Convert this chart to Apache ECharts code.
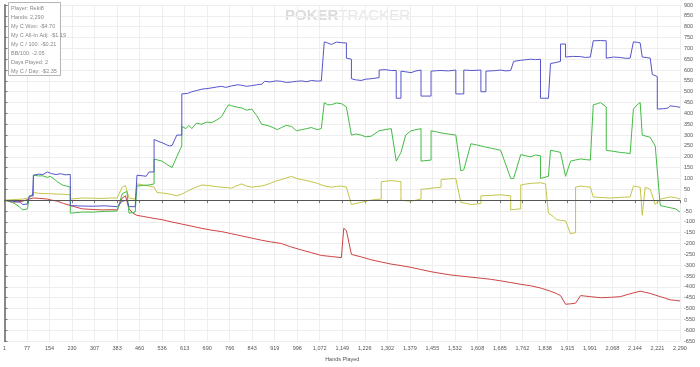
<!DOCTYPE html>
<html><head><meta charset="utf-8">
<script src="https://cdn.jsdelivr.net/npm/echarts@6/dist/echarts.min.js"></script>
<style>html,body{margin:0;padding:0;background:#fff}#c{width:700px;height:367px}</style>
</head><body><div id="c"></div>
<script>
const xTickLabels = ['1','77','154','230','307','383','460','536','613','690','766','843','919','996','1,072','1,149','1,226','1,302','1,379','1,455','1,532','1,608','1,685','1,762','1,838','1,915','1,991','2,068','2,144','2,221','2,290'];
const statLines = ['Player: Reki8','Hands: 2,290','My C Won: -$4.70','My C All-In Adj: -$1.19','My C / 100: -$0.21','BB/100: -2.05','Days Played: 2','My C / Day: -$2.35'];
const totalHands = 2290;

const blueWon = [[0,0],[27,-5],[55,-10],[61,-20],[78,-18],[84,18],[95,20],[98,115],[115,120],[130,118],[145,130],[160,122],[175,118],[190,122],[205,117],[223,118],[223,-25],[260,-27],[300,-28],[340,-26],[382,-30],[399,-5],[415,0],[422,-30],[443,-30],[449,115],[470,112],[480,110],[490,130],[507,130],[507,280],[520,272],[534,265],[550,255],[560,250],[568,252],[584,300],[601,300],[601,490],[620,492],[635,500],[650,505],[669,512],[690,515],[703,518],[720,522],[736,525],[750,520],[770,527],[790,532],[804,530],[820,525],[838,528],[855,532],[872,535],[882,548],[900,545],[920,550],[939,548],[955,543],[973,545],[990,548],[1007,550],[1025,546],[1040,552],[1060,549],[1074,550],[1084,730],[1095,725],[1108,718],[1125,729],[1142,726],[1159,725],[1159,655],[1176,650],[1176,560],[1190,555],[1209,552],[1225,558],[1243,560],[1270,565],[1270,600],[1290,602],[1311,598],[1328,598],[1328,470],[1344,470],[1344,595],[1360,592],[1378,588],[1395,596],[1412,600],[1412,480],[1446,480],[1446,595],[1465,597],[1480,598],[1505,596],[1530,600],[1530,490],[1557,490],[1557,600],[1585,598],[1615,600],[1615,500],[1632,500],[1632,595],[1660,597],[1682,600],[1700,596],[1716,598],[1726,640],[1750,645],[1784,650],[1800,648],[1817,650],[1817,470],[1844,470],[1851,630],[1870,635],[1885,640],[1885,720],[1902,720],[1902,660],[1925,663],[1953,662],[1970,658],[1986,660],[1996,735],[2020,736],[2040,735],[2040,655],[2065,660],[2088,658],[2105,654],[2121,655],[2132,730],[2145,728],[2155,725],[2162,660],[2175,658],[2189,655],[2196,580],[2213,570],[2213,420],[2235,422],[2250,425],[2257,435],[2275,432],[2290,428]];
const greenSeries = [[0,0],[27,-10],[50,-30],[61,-45],[78,-40],[84,20],[98,20],[98,115],[115,112],[130,112],[145,105],[155,110],[170,95],[179,85],[196,70],[210,65],[223,60],[223,-60],[260,-55],[300,-55],[340,-52],[382,-50],[399,30],[415,40],[422,-60],[443,-55],[449,65],[470,68],[490,70],[507,75],[507,190],[520,185],[534,180],[550,165],[568,150],[584,200],[601,250],[601,340],[615,330],[625,345],[635,330],[650,355],[669,350],[685,360],[703,358],[720,370],[736,385],[750,420],[760,440],[770,435],[785,430],[804,425],[820,415],[838,420],[855,390],[872,350],[890,345],[910,335],[925,325],[939,335],[955,345],[973,340],[990,320],[1007,325],[1025,330],[1040,335],[1060,325],[1074,330],[1084,450],[1095,440],[1108,440],[1125,448],[1142,445],[1159,430],[1176,300],[1192,305],[1209,300],[1225,292],[1243,295],[1270,320],[1290,325],[1311,330],[1328,180],[1344,220],[1360,300],[1378,320],[1395,325],[1412,330],[1412,180],[1446,185],[1446,320],[1465,315],[1480,310],[1505,305],[1530,300],[1547,135],[1557,140],[1581,260],[1600,255],[1615,250],[1630,245],[1648,240],[1665,235],[1682,230],[1716,100],[1726,100],[1750,210],[1765,205],[1784,200],[1800,208],[1817,205],[1817,100],[1844,110],[1851,230],[1870,225],[1885,220],[1902,110],[1919,180],[1935,185],[1953,190],[1970,187],[1986,185],[1996,440],[2010,445],[2020,450],[2040,430],[2040,230],[2065,225],[2088,220],[2105,218],[2121,215],[2132,420],[2145,440],[2155,450],[2162,300],[2175,295],[2189,290],[2206,250],[2223,-25],[2240,-30],[2257,-35],[2275,-40],[2290,-55]];
const yellowSeries = [[0,0],[61,5],[84,10],[98,35],[115,32],[130,30],[150,30],[179,28],[200,27],[223,25],[223,5],[263,10],[300,9],[331,8],[360,10],[382,10],[399,60],[410,67],[422,10],[443,5],[449,75],[470,70],[490,65],[507,60],[517,35],[535,33],[551,30],[570,25],[584,20],[601,28],[618,40],[640,55],[669,70],[685,68],[703,65],[720,62],[736,60],[755,58],[770,55],[785,65],[804,75],[820,65],[838,60],[855,63],[872,65],[890,72],[905,80],[920,88],[939,95],[955,102],[973,110],[990,100],[1007,95],[1025,90],[1040,85],[1060,78],[1074,70],[1090,64],[1108,60],[1125,63],[1142,65],[1159,60],[1176,-20],[1192,-15],[1209,-10],[1225,-5],[1243,0],[1260,3],[1277,5],[1277,85],[1295,88],[1311,90],[1328,88],[1344,85],[1344,0],[1360,-3],[1378,-5],[1395,0],[1412,5],[1412,50],[1430,52],[1446,55],[1465,58],[1480,60],[1480,95],[1505,98],[1530,100],[1547,-10],[1565,-15],[1581,-20],[1600,-18],[1615,-15],[1615,20],[1650,22],[1682,25],[1700,22],[1716,20],[1716,-45],[1733,-42],[1750,-40],[1750,70],[1770,75],[1790,78],[1817,80],[1834,75],[1844,-60],[1860,-75],[1871,-90],[1885,-93],[1902,-95],[1919,-155],[1936,-150],[1936,60],[1953,65],[1970,62],[1986,60],[1996,15],[2025,12],[2054,10],[2088,13],[2121,15],[2132,65],[2145,62],[2155,60],[2162,-70],[2172,60],[2189,50],[2206,-20],[2223,5],[2240,10],[2257,15],[2275,12],[2290,5]];
const redSeries = [[0,0],[27,-10],[61,-5],[84,5],[98,10],[120,8],[145,5],[160,0],[179,-5],[200,-15],[223,-25],[263,-40],[300,-43],[331,-45],[360,-44],[382,-45],[399,10],[410,20],[422,-40],[435,-60],[449,-70],[470,-75],[490,-80],[510,-85],[534,-90],[565,-100],[600,-110],[635,-120],[669,-130],[700,-138],[736,-145],[770,-155],[804,-165],[838,-175],[872,-185],[905,-193],[939,-200],[970,-215],[1007,-230],[1040,-242],[1074,-255],[1108,-260],[1142,-265],[1150,-130],[1159,-140],[1176,-250],[1210,-262],[1243,-275],[1277,-285],[1311,-295],[1345,-302],[1378,-310],[1412,-320],[1446,-330],[1480,-338],[1513,-345],[1547,-350],[1581,-355],[1615,-360],[1648,-365],[1682,-372],[1716,-380],[1750,-388],[1784,-395],[1817,-405],[1851,-420],[1870,-430],[1885,-440],[1902,-480],[1920,-478],[1936,-475],[1953,-440],[1986,-445],[2020,-450],[2055,-448],[2088,-445],[2120,-432],[2155,-420],[2172,-425],[2189,-430],[2206,-438],[2223,-445],[2240,-452],[2257,-460],[2275,-462],[2290,-465]];

const xStep = totalHands / 30;
const chart = echarts.init(document.getElementById('c'), null, {renderer:'canvas'});
const lbl = {fontFamily:'Liberation Sans, Arial, sans-serif', fontSize:5.5, color:'#555'};
function line(name, data, color, extra){
  return Object.assign({name, type:'line', data, symbol:'none', lineStyle:{color, width:1}, itemStyle:{color}, animation:false, z:3}, extra||{});
}
chart.setOption({
  animation:false,
  grid:{left:2, right:20, top:5, bottom:18},
  xAxis:{type:'value', min:0, max:totalHands, interval:xStep,
    axisLine:{show:true, lineStyle:{color:'#777'}},
    axisTick:{show:true, length:3, lineStyle:{color:'#777'}},
    axisLabel:Object.assign({margin:4, showMaxLabel:true, showMinLabel:true, formatter:v=>xTickLabels[Math.round(v/xStep)]||''}, lbl),
    splitLine:{show:true, lineStyle:{color:'#eeeeee', width:1}},
    name:'Hands Played', nameLocation:'middle', nameGap:14, nameTextStyle:lbl},
  yAxis:[{type:'value', position:'right', min:-650, max:900, interval:50,
    axisLine:{show:true, lineStyle:{color:'#777'}},
    axisTick:{show:true, length:3, lineStyle:{color:'#777'}},
    axisLabel:Object.assign({margin:4}, lbl),
    splitLine:{show:true, lineStyle:{color:'#eeeeee', width:1}}},
    {type:'value', position:'left', min:-650, max:900, interval:50,
    axisLine:{show:true, lineStyle:{color:'#888', width:2}}, axisTick:{show:false}, axisLabel:{show:false}, splitLine:{show:false}}],
  series:[
    line('Red', redSeries, '#cc4444'),
    line('Yellow', yellowSeries, '#c4c44a'),
    line('Green', greenSeries, '#44bb44'),
    line('Blue', blueWon, '#5555cc', {markLine:{silent:true, symbol:'none', label:{show:false}, lineStyle:{color:'#555', width:1, type:'solid'}, data:[{yAxis:0}]}})
  ],
  graphic:[
    {type:'rect', left:8, top:2, z:10, shape:{width:52, height:73}, style:{fill:'#fff', stroke:'#b5b5b5', lineWidth:1}},
    {type:'text', left:11, top:4, z:11, style:{text:statLines.join('\n'), fontFamily:'Liberation Sans, Arial, sans-serif', fontSize:5.5, lineHeight:9, fill:'#888'}},
    {type:'text', left:285, top:8, z:0, style:{rich:{a:{fontWeight:'bold', fontSize:15, fill:'#dcdcdc', fontFamily:'Liberation Sans, Arial'}, b:{fontSize:15, fill:'#e6e6e6', fontFamily:'Liberation Sans, Arial'}}, text:'{a|POKER}{b|TRACKER}'}}
  ]
});
</script></body></html>
